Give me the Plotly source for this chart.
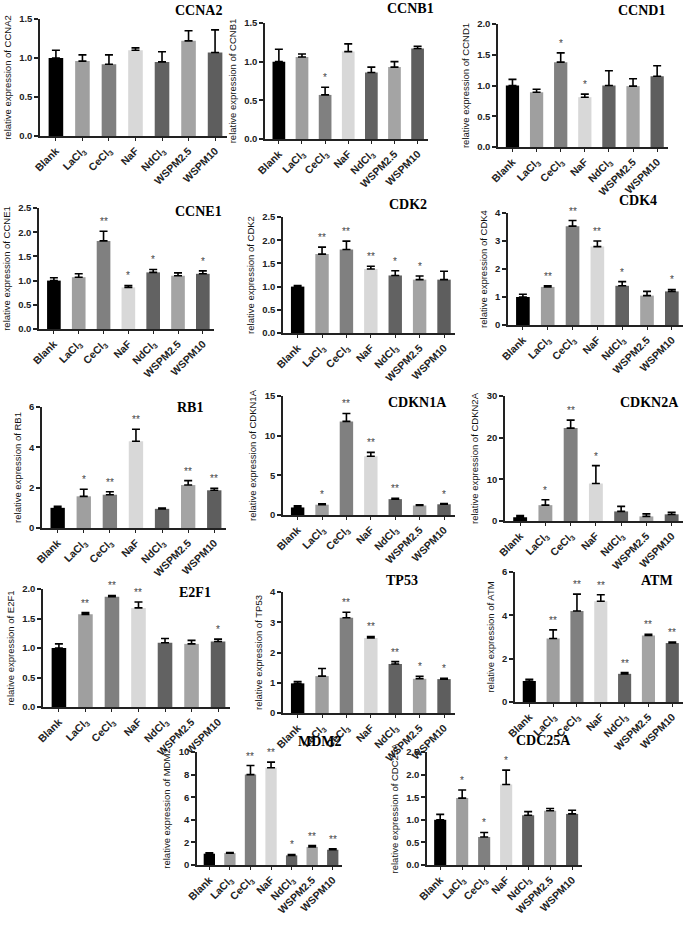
import plotly.graph_objects as go

W, H = 685, 943

categories = ["Blank", "LaCl<sub>3</sub>", "CeCl<sub>3</sub>", "NaF", "NdCl<sub>3</sub>", "WSPM2.5", "WSPM10"]

CCNA2_mean = [1.00, 0.96, 0.92, 1.10, 0.95, 1.22, 1.07]
CCNA2_err = [0.10, 0.08, 0.12, 0.03, 0.13, 0.13, 0.29]
CCNA2_sig = ["", "", "", "", "", "", ""]

CCNB1_mean = [1.00, 1.06, 0.57, 1.13, 0.86, 0.93, 1.17]
CCNB1_err = [0.16, 0.04, 0.10, 0.10, 0.07, 0.07, 0.03]
CCNB1_sig = ["", "", "*", "", "", "", ""]

CCND1_mean = [1.00, 0.89, 1.38, 0.81, 1.00, 0.99, 1.15]
CCND1_err = [0.10, 0.05, 0.15, 0.05, 0.24, 0.12, 0.17]
CCND1_sig = ["", "", "*", "*", "", "", ""]

CCNE1_mean = [1.00, 1.07, 1.82, 0.86, 1.17, 1.10, 1.14]
CCNE1_err = [0.06, 0.07, 0.20, 0.04, 0.06, 0.06, 0.06]
CCNE1_sig = ["", "", "**", "*", "*", "", "*"]

CDK2_mean = [1.00, 1.70, 1.80, 1.38, 1.24, 1.15, 1.15]
CDK2_err = [0.02, 0.15, 0.18, 0.06, 0.10, 0.08, 0.18]
CDK2_sig = ["", "**", "**", "**", "*", "*", ""]

CDK4_mean = [1.00, 1.36, 3.53, 2.80, 1.40, 1.05, 1.20]
CDK4_err = [0.10, 0.04, 0.20, 0.20, 0.15, 0.15, 0.07]
CDK4_sig = ["", "**", "**", "**", "*", "", "*"]

RB1_mean = [1.00, 1.57, 1.65, 4.30, 0.95, 2.13, 1.87]
RB1_err = [0.08, 0.35, 0.15, 0.60, 0.04, 0.22, 0.10]
RB1_sig = ["", "*", "**", "**", "", "**", "**"]

CDKN1A_mean = [0.95, 1.30, 11.80, 7.40, 2.00, 1.20, 1.35]
CDKN1A_err = [0.20, 0.10, 1.00, 0.50, 0.10, 0.10, 0.10]
CDKN1A_sig = ["", "*", "**", "**", "**", "", "*"]

CDKN2A_mean = [0.90, 3.80, 22.30, 9.00, 2.30, 1.10, 1.60]
CDKN2A_err = [0.40, 1.30, 1.90, 4.30, 1.20, 0.60, 0.50]
CDKN2A_sig = ["", "*", "**", "*", "", "", ""]

E2F1_mean = [1.00, 1.57, 1.87, 1.68, 1.09, 1.07, 1.11]
E2F1_err = [0.07, 0.03, 0.02, 0.10, 0.07, 0.06, 0.04]
E2F1_sig = ["", "**", "**", "**", "", "", "*"]

TP53_mean = [0.98, 1.22, 3.15, 2.48, 1.62, 1.13, 1.12]
TP53_err = [0.06, 0.25, 0.18, 0.05, 0.08, 0.08, 0.03]
TP53_sig = ["", "", "**", "**", "**", "*", "*"]

ATM_mean = [0.97, 2.93, 4.20, 4.65, 1.30, 3.07, 2.72]
ATM_err = [0.08, 0.40, 0.78, 0.30, 0.06, 0.06, 0.05]
ATM_sig = ["", "**", "**", "**", "**", "**", "**"]

MDM2_mean = [1.00, 1.05, 8.00, 8.60, 0.85, 1.60, 1.35]
MDM2_err = [0.08, 0.05, 0.80, 0.50, 0.08, 0.12, 0.08]
MDM2_sig = ["", "", "**", "**", "*", "**", "**"]

CDC25A_mean = [1.00, 1.48, 0.62, 1.78, 1.10, 1.20, 1.13]
CDC25A_err = [0.12, 0.18, 0.10, 0.32, 0.08, 0.05, 0.08]
CDC25A_sig = ["", "*", "*", "*", "", "", ""]

genes = ["CCNA2", "CCNB1", "CCND1", "CCNE1", "CDK2", "CDK4", "RB1", "CDKN1A",
         "CDKN2A", "E2F1", "TP53", "ATM", "MDM2", "CDC25A"]
means = [CCNA2_mean, CCNB1_mean, CCND1_mean, CCNE1_mean, CDK2_mean, CDK4_mean, RB1_mean,
         CDKN1A_mean, CDKN2A_mean, E2F1_mean, TP53_mean, ATM_mean, MDM2_mean, CDC25A_mean]
errs = [CCNA2_err, CCNB1_err, CCND1_err, CCNE1_err, CDK2_err, CDK4_err, RB1_err,
        CDKN1A_err, CDKN2A_err, E2F1_err, TP53_err, ATM_err, MDM2_err, CDC25A_err]
sigs = [CCNA2_sig, CCNB1_sig, CCND1_sig, CCNE1_sig, CDK2_sig, CDK4_sig, RB1_sig,
        CDKN1A_sig, CDKN2A_sig, E2F1_sig, TP53_sig, ATM_sig, MDM2_sig, CDC25A_sig]
y_max = [1.5, 1.5, 2.0, 2.5, 2.5, 4, 6, 15, 30, 2.0, 4, 6, 10, 2.5]
y_dtick = [0.5, 0.5, 0.5, 0.5, 0.5, 1, 2, 5, 10, 0.5, 1, 2, 2, 0.5]

# layout (pixel boxes: x_left, x_right, y_top, y_bottom) and title centres
boxes = [(40, 227, 19, 136), (265, 428, 23, 139), (498, 668, 24, 147),
         (39, 214, 208, 329), (283, 455, 217, 333), (508, 683, 213, 325),
         (42, 226, 407, 528), (283, 455, 396, 515), (505, 683, 396, 521),
         (43, 230, 589, 707), (283, 455, 592, 713), (515, 683, 572, 702),
         (197, 342, 752, 865), (427, 582, 752, 865)]
title_pos = [(198, 11), (410, 8), (641, 11), (198, 211), (408, 205), (638, 200),
             (190, 407), (417, 402), (649, 402), (195, 592), (402, 580), (657, 580),
             (320, 741), (543, 740)]

bar_colors = ["#000000", "#9f9f9f", "#808080", "#d8d8d8", "#626262", "#a4a4a4", "#5e5e5e"]

fig = go.Figure()
annotations = []
for i, g in enumerate(genes):
    n = "" if i == 0 else str(i + 1)
    xr, yr = "x" + n, "y" + n
    fig.add_trace(go.Bar(
        x=list(range(len(categories))), y=means[i],
        marker=dict(color=bar_colors, line=dict(width=0)),
        error_y=dict(type="data", array=errs[i], arrayminus=[0] * 7, symmetric=False,
                     color="#000000", thickness=1.6, width=4),
        xaxis=xr, yaxis=yr, showlegend=False, hoverinfo="skip",
    ))
    x0, x1, yt, yb = boxes[i]
    fmt = ".1f" if y_dtick[i] < 1 else "d"
    fig.layout["xaxis" + n] = dict(
        domain=[x0 / W, x1 / W], anchor=yr, range=[-0.6, 6.45],
        tickvals=list(range(len(categories))), ticktext=categories, tickangle=-45,
        tickfont=dict(family="Liberation Sans, Arial", size=10.5, color="#222", weight="bold"),
        showline=True, linecolor="#222", linewidth=1.5, ticks="outside", ticklen=3,
        tickwidth=1, tickcolor="#222", showgrid=False, zeroline=False, automargin=False,
        fixedrange=True,
    )
    fig.layout["yaxis" + n] = dict(
        domain=[1 - yb / H, 1 - yt / H], anchor=xr, range=[0, y_max[i]], dtick=y_dtick[i],
        tick0=0, tickformat=fmt,
        tickfont=dict(family="Liberation Sans, Arial", size=9.5, color="#222", weight="bold"),
        showline=True, linecolor="#222", linewidth=1.5, ticks="outside", ticklen=4,
        tickwidth=1.5, tickcolor="#222", showgrid=False, zeroline=False, automargin=False,
        fixedrange=True,
        title=dict(text="relative expression of " + g, standoff=6,
                   font=dict(family="Liberation Sans, Arial", size=9.5, color="#111")),
    )
    for j, s in enumerate(sigs[i]):
        if s:
            annotations.append(dict(
                x=j, y=means[i][j] + errs[i][j], xref=xr, yref=yr, text=s,
                showarrow=False, yanchor="bottom", yshift=2,
                font=dict(family="Liberation Sans, Arial", size=10, color="#444"),
            ))
    tx, ty = title_pos[i]
    annotations.append(dict(
        x=tx / W, y=1 - ty / H, xref="paper", yref="paper", text="<b>" + g + "</b>",
        showarrow=False, xanchor="center", yanchor="middle",
        font=dict(family="Liberation Serif, Times New Roman", size=14, color="#000"),
    ))

fig.update_layout(
    width=W, height=H, margin=dict(l=0, r=0, t=0, b=0),
    paper_bgcolor="white", plot_bgcolor="white", bargap=0.45,
    annotations=annotations,
)

fig.write_html("out.html", config={"displayModeBar": False},
               post_script="document.body.style.margin='0px';")
